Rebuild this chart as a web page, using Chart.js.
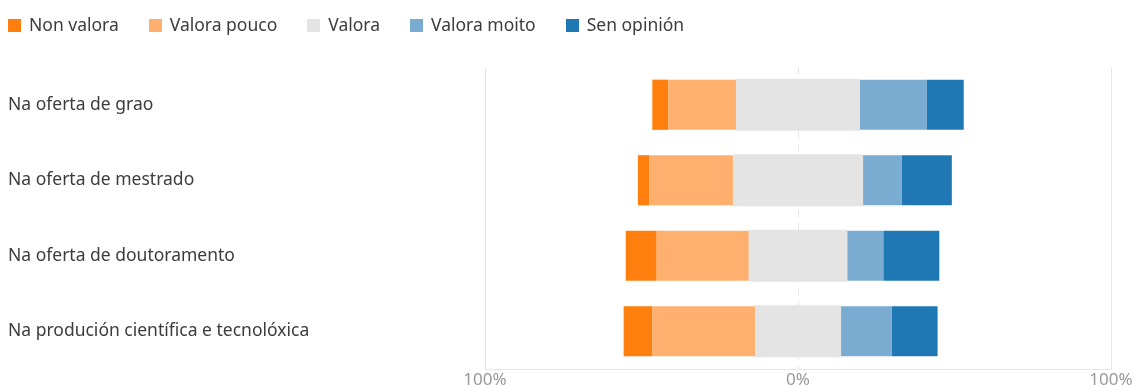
<!DOCTYPE html>
<html>
<head>
<meta charset="utf-8">
<script src="https://cdn.jsdelivr.net/npm/chart.js@4"></script>
<style>
    html, body { margin: 0; padding: 0; background: #fff; }
    #wrap { position: relative; width: 1134px; height: 385px; }
    #legend { position: absolute; left: 8px; top: 12px; font: 17.5px "Noto Sans", sans-serif; color: #3c3c3c; white-space: nowrap; }
    #legend span.item { display: inline-block; margin-right: 30px; line-height: 24px; }
    #legend span.box { display: inline-block; width: 13px; height: 13px; margin-right: 8px; vertical-align: -1px; }
</style>
</head>
<body>
<div id="wrap">
    <div id="legend"></div>
    <canvas id="opinionChart" width="1134" height="385"></canvas>
</div>
<script>
var categories = [
    'Na oferta de grao',
    'Na oferta de mestrado',
    'Na oferta de doutoramento',
    'Na produción científica e tecnolóxica'
];
var nonValora = [5.1, 3.7, 9.9, 9.1];
var valoraPouco = [21.9, 26.9, 29.6, 33.1];
var valora = [39.1, 41.1, 31.1, 27.0];
var valoraMoito = [21.5, 12.5, 11.7, 16.5];
var senOpinion = [11.9, 16.1, 17.9, 14.6];
var xTicks = [-100, 0, 100];

var colors = {
    nonValora: '#ff7f0e',
    valoraPouco: '#ffb06e',
    valora: '#e4e4e4',
    valoraMoito: '#7aacd2',
    senOpinion: '#1f77b4'
};

function neg(arr) { return arr.map(function(v) { return -v; }); }
function half(arr, sign) { return arr.map(function(v) { return sign * v / 2; }); }

// stacking order: outward from 0 on each side, "Valora" split across the centre
var datasets = [
    { label: 'Valora', data: half(valora, -1), backgroundColor: colors.valora, legendIndex: 2 },
    { label: 'Valora pouco', data: neg(valoraPouco), backgroundColor: colors.valoraPouco, legendIndex: 1 },
    { label: 'Non valora', data: neg(nonValora), backgroundColor: colors.nonValora, legendIndex: 0 },
    { label: 'Valora', data: half(valora, 1), backgroundColor: colors.valora, legendIndex: -1 },
    { label: 'Valora moito', data: valoraMoito, backgroundColor: colors.valoraMoito, legendIndex: 3 },
    { label: 'Sen opinión', data: senOpinion, backgroundColor: colors.senOpinion, legendIndex: 4 }
];
datasets.forEach(function(d) {
    d.borderWidth = 0;
    d.barPercentage = 0.665;
    d.categoryPercentage = 1;
    // the two halves of "Valora" overlap a little so no seam shows at 0
    d.inflateAmount = d.label === 'Valora' ? 0.8 : 'auto';
});

// legend in html so it can sit flush left
var legendEl = document.getElementById('legend');
datasets.filter(function(d) { return d.legendIndex >= 0; })
    .sort(function(a, b) { return a.legendIndex - b.legendIndex; })
    .forEach(function(d) {
        var item = document.createElement('span');
        item.className = 'item';
        var box = document.createElement('span');
        box.className = 'box';
        box.style.background = d.backgroundColor;
        item.appendChild(box);
        item.appendChild(document.createTextNode(d.label));
        legendEl.appendChild(item);
    });

var ctx = document.getElementById('opinionChart').getContext('2d');
var chart = new Chart(ctx, {
    type: 'bar',
    data: { labels: categories, datasets: datasets },
    options: {
        indexAxis: 'y',
        responsive: false,
        animation: false,
        layout: { padding: { top: 67, left: 8, right: 23, bottom: 0 } },
        plugins: {
            legend: { display: false },
            tooltip: { enabled: false }
        },
        scales: {
            x: {
                stacked: true,
                min: -100,
                max: 100,
                afterBuildTicks: function(scale) {
                    scale.ticks = xTicks.map(function(v) { return { value: v }; });
                },
                afterFit: function(scale) { scale.height = 16; },
                grid: {
                    drawTicks: false,
                    color: '#e6e6e6',
                    lineWidth: 1
                },
                border: {
                    display: true,
                    color: '#e6e6e6',
                    dash: function(c) { return c.tick && c.tick.value === 0 ? [7, 6] : []; }
                },
                ticks: {
                    padding: 1,
                    color: '#999',
                    font: { family: '"Noto Sans", sans-serif', size: 17 },
                    callback: function(v) { return Math.abs(v) + '%'; }
                }
            },
            y: {
                stacked: true,
                afterFit: function(scale) { scale.width = 477; },
                grid: { display: false },
                border: { display: false },
                ticks: {
                    crossAlign: 'far',
                    color: '#3c3c3c',
                    font: { family: '"Noto Sans", sans-serif', size: 17.5 }
                }
            }
        }
    }
});
</script>
</body>
</html>
